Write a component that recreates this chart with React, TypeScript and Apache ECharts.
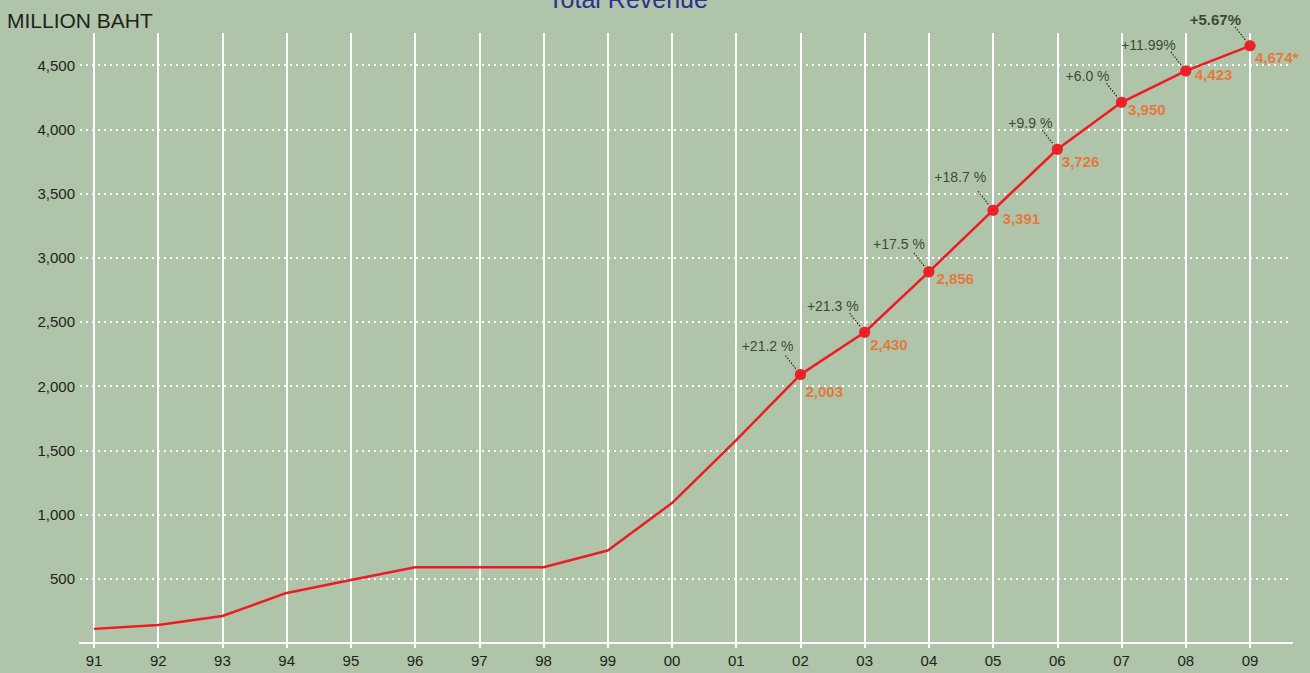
import React, { useEffect, useRef } from "react";
import * as echarts from "echarts";

// Fiscal years (x categories)
const years = ["91", "92", "93", "94", "95", "96", "97", "98", "99", "00", "01", "02", "03", "04", "05", "06", "07", "08", "09"];
// Revenue (million baht) as plotted in the reference
const revenue = [110, 140, 210, 390, 490, 590, 590, 590, 720, 1090, 1580, 2090, 2420, 2890, 3370, 3845, 4210, 4455, 4650];
// Points marked with a dot start at this index ("02")
const firstMarked = 11;
// Labels printed next to the marked points
const valueLabels = ["2,003", "2,430", "2,856", "3,391", "3,726", "3,950", "4,423", "4,674*"];
const growthLabels = ["+21.2 %", "+21.3 %", "+17.5 %", "+18.7 %", "+9.9 %", "+6.0 %", "+11.99%", "+5.67%"];
// Y axis
const yMin = 0;
const yMax = 4750;
const yStep = 500;

// label placement (styling only)
const valueLabelOffsets = [[-0.5, 17], [0, 12], [2, 7], [4, 8], [-1, 12], [1, 7], [3.5, 4], [-0.5, 12]];
const growthLabelOffsets = [[-1.5, -29], [-0.5, -26], [1.5, -28], [-1.5, -33], [0.5, -26], [-6.5, -26], [-4.5, -26], [-3.5, -26]];

const FONT = "'Liberation Sans', Arial, sans-serif";

export default function App() {
  const ref = useRef<HTMLDivElement>(null);

  useEffect(() => {
    if (!ref.current) return;
    const chart = echarts.init(ref.current, null, { renderer: "svg" });

    const tickIdx = years.map((_, i) => i);
    const linePoints = revenue.map((v, i) => [i, v]);
    const markedRaw = revenue.slice(firstMarked).map((v, k) => [firstMarked + k, v]);
    const marked = markedRaw.map((p, k) => ({
      value: p,
      label: { offset: valueLabelOffsets[k] },
    }));
    const growthPoints = markedRaw.map((p, k) => ({
      value: p,
      label:
        k === growthLabels.length - 1
          ? { offset: growthLabelOffsets[k], fontWeight: "bold", fontSize: 15 }
          : { offset: growthLabelOffsets[k] },
    }));

    const option: any = {
      animation: false,
      backgroundColor: "#afc4a8",
      grid: { left: 80, right: 18, top: 33, bottom: 30, containLabel: false },
      graphic: [
        {
          type: "text",
          x: 628,
          y: -1.5,
          style: {
            text: "Total Revenue",
            fill: "#2e3192",
            font: `25px ${FONT}`,
            textAlign: "center",
            textVerticalAlign: "middle",
          },
        },
        {
          type: "text",
          x: 7,
          y: 20,
          style: {
            text: "MILLION BAHT",
            fill: "#231f20",
            font: `21px ${FONT}`,
            textAlign: "left",
            textVerticalAlign: "middle",
          },
        },
      ],
      xAxis: {
        type: "value",
        min: -0.218,
        max: years.length - 1 + 0.654,
        splitNumber: years.length,
        minInterval: 1,
        maxInterval: 1,
        axisLine: { show: true, lineStyle: { color: "#ffffff", width: 2 } },
        axisTick: { show: true, length: 5, lineStyle: { color: "#ffffff", width: 2 }, customValues: tickIdx },
        axisLabel: {
          show: true,
          margin: 10,
          color: "#231f20",
          fontSize: 15,
          fontFamily: FONT,
          customValues: tickIdx,
          formatter: (v: number) => (Number.isInteger(v) && years[v] !== undefined ? years[v] : ""),
        },
        splitLine: {
          show: true,
          lineStyle: { color: "#ffffff", width: 2 },
        },
      },
      yAxis: {
        type: "value",
        min: yMin,
        max: yMax,
        interval: yStep,
        axisLine: { show: false },
        axisTick: { show: false },
        axisLabel: {
          showMinLabel: false,
          showMaxLabel: false,
          margin: 5,
          color: "#231f20",
          fontSize: 15,
          fontFamily: FONT,
          formatter: (v: number) => (v % yStep === 0 ? v.toLocaleString("en-US") : ""),
        },
        splitLine: {
          show: true,
          showMinLine: false,
          showMaxLine: false,
          lineStyle: { color: "#ffffff", width: 2, type: [2, 4] },
        },
      },
      series: [
        {
          type: "line",
          data: linePoints,
          showSymbol: false,
          symbol: "none",
          lineStyle: { color: "#ed1c24", width: 2.5 },
          z: 3,
        },
        {
          // dotted leader lines from the growth labels to the points
          type: "custom",
          data: markedRaw,
          z: 3,
          silent: true,
          renderItem: (_params: any, api: any) => {
            const p = api.coord([api.value(0), api.value(1)]);
            return {
              type: "line",
              shape: { x1: p[0] - 15, y1: p[1] - 19, x2: p[0] - 4, y2: p[1] - 5 },
              style: { stroke: "#231f20", lineWidth: 1.1, lineDash: [1.5, 1.5], fill: null },
            };
          },
        },
        {
          type: "scatter",
          data: growthPoints,
          symbol: "circle",
          symbolSize: 11,
          itemStyle: { color: "#ed1c24" },
          z: 4,
          label: {
            show: true,
            position: "left",
            distance: 0,
            color: "#231f20",
            fontSize: 14,
            fontFamily: FONT,
            formatter: (p: any) => growthLabels[p.dataIndex],
          },
        },
        {
          type: "scatter",
          data: marked,
          symbol: "circle",
          symbolSize: 11,
          itemStyle: { color: "#ed1c24" },
          z: 5,
          label: {
            show: true,
            position: "right",
            distance: 0,
            color: "#f26522",
            fontSize: 15,
            fontWeight: "bold",
            fontFamily: FONT,
            formatter: (p: any) => valueLabels[p.dataIndex],
          },
        },
      ],
    };

    chart.setOption(option);
    return () => chart.dispose();
  }, []);

  return (
    <div
      ref={ref}
      style={{ position: "fixed", left: 0, top: 0, width: 1310, height: 673 }}
    />
  );
}
